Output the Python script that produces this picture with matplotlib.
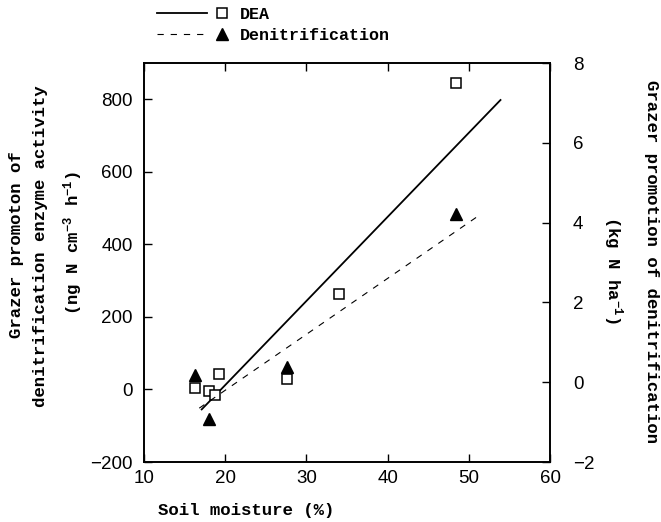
import matplotlib
matplotlib.use("Agg")
import matplotlib.pyplot as plt
from matplotlib.lines import Line2D
from matplotlib.legend_handler import HandlerBase

# soil moisture (%) and grazer promotion of DEA (ng N cm-3 h-1)
moisture_dea = [16.3, 18.0, 18.8, 19.2, 27.6, 34.0, 48.4]
dea = [5, -5, -15, 42, 30, 262, 844]

# soil moisture (%) and grazer promotion of denitrification (kg N ha-1)
moisture_denit = [16.3, 18.0, 27.6, 48.4]
denit = [0.17, -0.93, 0.38, 4.22]

# end points of the fitted regression lines
dea_fit_x = [17.1, 53.9]
dea_fit_y = [-55, 798]
denit_fit_x = [16.8, 51.4]
denit_fit_y = [-0.65, 4.2]

x_ticks = [10, 20, 30, 40, 50, 60]
left_ticks = [-200, 0, 200, 400, 600, 800]
right_ticks = [-2, 0, 2, 4, 6, 8]

plt.rcParams["font.family"] = "Liberation Sans"
plt.rcParams["mathtext.fontset"] = "custom"
plt.rcParams["mathtext.rm"] = "Liberation Mono:bold"
plt.rcParams["mathtext.default"] = "rm"
plt.rcParams["lines.scale_dashes"] = False

mono = dict(family="Liberation Mono", weight="bold", size=12.5)


class PairHandler(HandlerBase):
    """legend key: line segment followed by the marker"""

    def create_artists(self, legend, orig_handle, xdescent, ydescent,
                       width, height, fontsize, trans):
        line, mark = orig_handle
        y = height / 2 - ydescent
        x0 = -xdescent
        seg = Line2D([0, 1], [0, 1])
        seg.update_from(line)
        seg.set_data([x0, x0 + 0.71 * width], [y, y])
        seg.set_marker("")
        mk = Line2D([0], [0])
        mk.update_from(mark)
        mk.set_data([x0 + 0.93 * width], [y])
        mk.set_linestyle("none")
        for a in (seg, mk):
            a.set_clip_on(False)
            a.set_clip_box(None)
            a.set_clip_path(None)
            a.set_transform(trans)
        return [seg, mk]


fig = plt.figure(figsize=(6.61, 5.22), dpi=100)
ax = fig.add_axes([0.2179, 0.1149, 0.6142, 0.7644])
ax2 = ax.twinx()

l_dea, = ax.plot(dea_fit_x, dea_fit_y, color="black", lw=1.3)
m_dea, = ax.plot(moisture_dea, dea, linestyle="none", marker="s", ms=6.5,
                 mfc="white", mec="black", mew=1.1)
l_den, = ax2.plot(denit_fit_x, denit_fit_y, color="black", lw=0.8,
                  dashes=(4.5, 5))
m_den, = ax2.plot(moisture_denit, denit, linestyle="none", marker="^",
                  ms=8, color="black")

ax.set_xlim(10, 60)
ax.set_ylim(-200, 900)
ax2.set_ylim(-2, 8)
ax.set_xticks(x_ticks)
ax.set_yticks(left_ticks)
ax2.set_yticks(right_ticks)

ax.tick_params(direction="in", length=6, width=1, top=True, right=False,
               labelsize=13.5, pad=8)
ax.tick_params(axis="x", pad=6)
ax2.tick_params(direction="in", length=6, width=1, labelsize=13.5, pad=16.5)
for a in (ax, ax2):
    for s in a.spines.values():
        s.set_linewidth(1.2)

fig.legend(handles=[(l_dea, m_dea), (l_den, m_den)],
           labels=["DEA", "Denitrification"],
           handler_map={tuple: PairHandler()},
           loc="upper left", bbox_to_anchor=(0.2375, 0.986),
           frameon=False, borderpad=0, borderaxespad=0,
           handlelength=4.2, handletextpad=0.8, labelspacing=0.35,
           prop=dict(family="Liberation Mono", weight="bold", size=12))

fig.text(246 / 661, 1 - 511 / 522, "Soil moisture (%)",
         ha="center", va="center", **mono)

fig.text(17 / 661, 1 - 245 / 522, "Grazer promoton of", rotation=90,
         ha="center", va="center", **mono)
fig.text(41 / 661, 1 - 246 / 522, "denitrification enzyme activity",
         rotation=90, ha="center", va="center", **mono)
fig.text(73 / 661, 1 - 243 / 522, "(ng N cm$^{-3}$ h$^{-1}$)", rotation=90,
         ha="center", va="center", **mono)

fig.text(651 / 661, 1 - 262 / 522, "Grazer promotion of denitrification",
         rotation=-90, ha="center", va="center", **mono)
fig.text(613 / 661, 1 - 270 / 522, "(kg N ha$^{-1}$)", rotation=-90,
         ha="center", va="center", **mono)

fig.savefig("out.png", dpi=100)
